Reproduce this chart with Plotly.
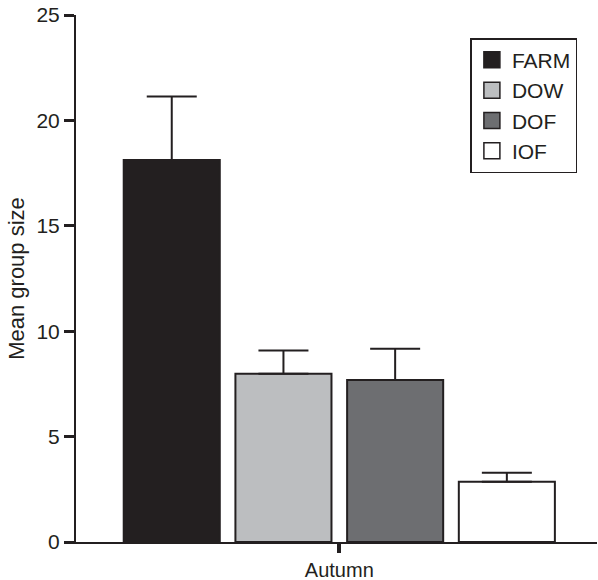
import plotly.graph_objects as go

category = ["Autumn"]
groups = ["FARM", "DOW", "DOF", "IOF"]
means = [18.12, 7.98, 7.69, 2.86]
errors = [3.01, 1.10, 1.48, 0.43]
colors = ["#231f20", "#bcbec0", "#6d6e71", "#ffffff"]
y_ticks = [0, 5, 10, 15, 20, 25]

INK = "#231f20"

fig = go.Figure()
for name, m, e, c in zip(groups, means, errors, colors):
    fig.add_trace(go.Bar(
        x=category, y=[m], name=name, showlegend=False,
        marker=dict(color=c, line=dict(color=INK, width=2)),
        error_y=dict(type="data", array=[e], arrayminus=[0], symmetric=False,
                     color=INK, thickness=2, width=25),
    ))

for name, c in zip(groups, colors):
    fig.add_trace(go.Scatter(
        x=category, y=[None], name=name, mode="markers",
        marker=dict(symbol="square", size=16, color=c, line=dict(color=INK, width=1.5)),
        hoverinfo="skip",
    ))

fig.update_layout(
    width=598, height=580,
    margin=dict(l=76, r=1, t=15, b=38, autoexpand=False),
    paper_bgcolor="white", plot_bgcolor="white",
    barmode="group", bargap=0.1064, bargroupgap=0.14,
    font=dict(family="Liberation Sans, Arial, sans-serif", size=21, color=INK),
    showlegend=True,
    legend=dict(x=0.757, y=0.956, xanchor="left", yanchor="top",
                bordercolor=INK, borderwidth=1.5, bgcolor="white",
                font=dict(size=21), tracegroupgap=0, itemwidth=30,
                itemsizing="trace"),
)
fig.update_xaxes(range=[-0.5266, 0.5154], showline=True, linecolor=INK, linewidth=2,
                 ticks="outside", ticklen=9, tickwidth=4, tickcolor=INK,
                 tickfont=dict(size=20),
                 showgrid=False, zeroline=False, automargin=False)
fig.update_yaxes(range=[0, 25], tickvals=y_ticks, showline=True, linecolor=INK, linewidth=2,
                 ticks="outside", ticklen=10, tickwidth=3, tickcolor=INK,
                 tickfont=dict(size=21),
                 showgrid=False, zeroline=False, automargin=False,
                 title=dict(text="Mean group size", font=dict(size=22), standoff=6))

fig.write_html("out.html", config={"displayModeBar": False},
               post_script="document.body.style.margin='0';document.body.style.overflow='hidden';")
